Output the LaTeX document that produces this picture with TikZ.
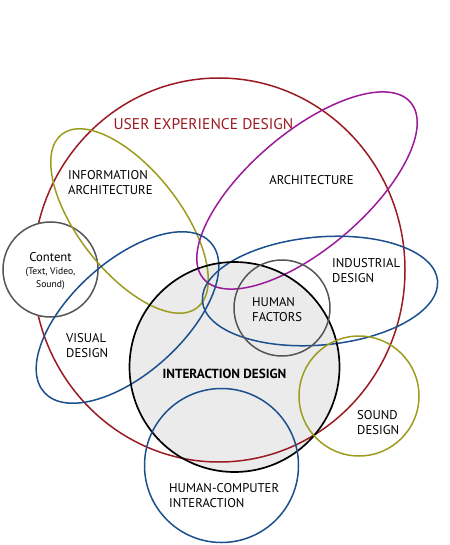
\documentclass[tikz,border=0pt]{standalone}
\usepackage{fontspec}
\setmainfont{PT Sans}
\definecolor{uxred}{HTML}{9B1B22}
\definecolor{olive}{HTML}{9C9C1E}
\definecolor{purp}{HTML}{9A1A9A}
\definecolor{dblue}{HTML}{1B4F8E}
\definecolor{dgray}{HTML}{555555}
\definecolor{fillgray}{HTML}{EBEBEB}
\tikzset{
  shp/.style={line width=1.5pt},
  lbl/.style={font=\fontsize{12.7}{15}\selectfont, text=black, inner sep=0pt, align=left},
}
\begin{document}
\begin{tikzpicture}[x=1pt,y=-1pt]
\useasboundingbox (0,0) rectangle (449,545);
% interaction design fill
\fill[fillgray] (234.5,367) circle[radius=105pt];
% UX
\draw[shp,uxred] (219,270) ellipse[x radius=186pt, y radius=192pt];
% content
\draw[shp,dgray,fill=white] (50.5,269.5) circle[radius=47.5pt];
% info arch
\draw[shp,olive,rotate around={-52:(129.5,221)}] (129.5,221) ellipse[x radius=110pt, y radius=51pt];
% architecture
\draw[shp,purp,rotate around={40.4:(307,190.5)}] (307,190.5) ellipse[x radius=136pt, y radius=58pt];
% visual
\draw[shp,dblue,rotate around={42:(127.5,317.5)}] (127.5,317.5) ellipse[x radius=112pt, y radius=56pt];
% industrial
\draw[shp,dblue,rotate around={5:(320,291)}] (320,291) ellipse[x radius=118pt, y radius=54pt];
% interaction outline
\draw[line width=1.7pt,black] (234.5,367) circle[radius=105pt];
% human factors
\draw[shp,dgray] (282,308) circle[radius=48pt];
% sound
\draw[shp,olive] (359,396) circle[radius=60pt];
% hci
\draw[shp,dblue] (221.5,465.5) circle[radius=77pt];

\node[lbl,font=\fontsize{15.5}{18}\selectfont,text=uxred] (ux) at (203.5,124) {USER EXPERIENCE DESIGN};
\node[lbl,anchor=north west] (ia) at (68,170) {INFORMATION\\ARCHITECTURE};
\node[lbl] (arch) at (311.5,180) {ARCHITECTURE};
\node[lbl,align=center] (content) at (50.5,271) {Content\\[-2pt]{\fontsize{9.6}{11}\selectfont (Text, Video,}\\[-2pt]{\fontsize{9.6}{11}\selectfont Sound)}};
\node[lbl,anchor=north west] (ind) at (332,258) {INDUSTRIAL\\DESIGN};
\node[lbl,anchor=north west] (hf) at (252,297) {HUMAN\\FACTORS};
\node[lbl,anchor=north west] (vis) at (66,333) {VISUAL\\DESIGN};
\node[lbl,font=\fontsize{13.2}{15}\bfseries\selectfont] (ixd) at (224.5,374) {INTERACTION DESIGN};
\node[lbl,anchor=north west] (snd) at (357,410) {SOUND\\DESIGN};
\node[lbl,anchor=north west] (hci) at (169,483) {HUMAN-COMPUTER\\INTERACTION};
\end{tikzpicture}
\end{document}
